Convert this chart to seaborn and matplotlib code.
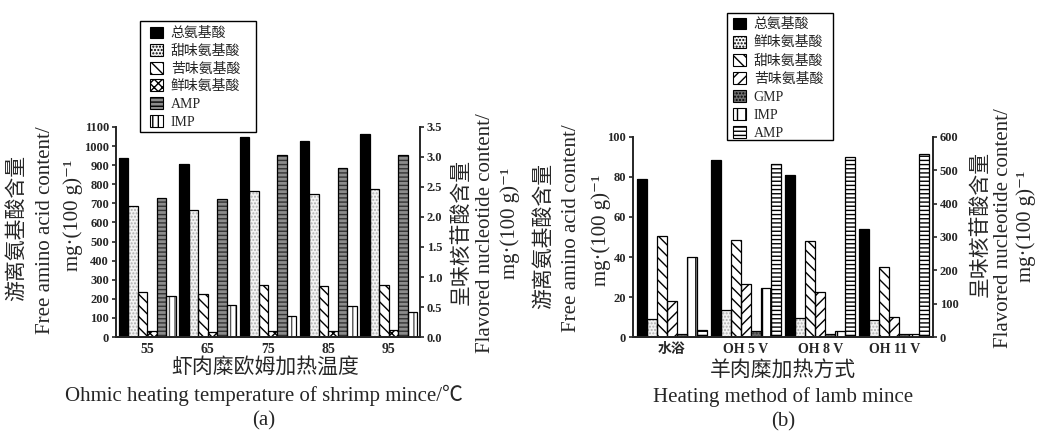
import numpy as np
import pandas as pd
import matplotlib
matplotlib.use('Agg')
import matplotlib.pyplot as plt
import matplotlib.patches as mpatches
import seaborn as sns

sns.set_style('ticks')
plt.rcParams['font.family'] = ['Liberation Serif', 'Noto Sans CJK SC', 'DejaVu Sans']
plt.rcParams['hatch.linewidth'] = 1.0
plt.rcParams['axes.linewidth'] = 1.4

# ---- panel (a): shrimp mince, ohmic heating temperature ----
temps = ['55', '65', '75', '85', '95']
a_total = [936, 904, 1049, 1027, 1063]
a_sweet = [688, 667, 763, 749, 775]
a_bitter = [237, 225, 271, 265, 274]
a_umami = [30, 28, 33, 31, 35]
a_amp = [2.31, 2.30, 3.03, 2.81, 3.03]
a_imp = [0.69, 0.54, 0.35, 0.52, 0.42]
a_names = ['总氨基酸', '甜味氨基酸', '苦味氨基酸', '鲜味氨基酸', 'AMP', 'IMP']

# ---- panel (b): lamb mince, heating method ----
methods = ['水浴', 'OH 5 V', 'OH 8 V', 'OH 11 V']
b_total = [79.0, 88.7, 80.8, 54.0]
b_umami = [9.2, 13.3, 9.3, 8.3]
b_sweet = [50.7, 48.3, 48.0, 35.0]
b_bitter = [18.0, 26.3, 22.5, 10.2]
b_gmp = [9, 19, 9, 9]
b_imp = [239, 146, 17, 10]
b_amp = [22, 518, 540, 548]
b_names = ['总氨基酸', '鲜味氨基酸', '甜味氨基酸', '苦味氨基酸', 'GMP', 'IMP', 'AMP']

# style per series: facecolor, hatch, hatch colour
a_style = {
    '总氨基酸': ('black', '', 'black'),
    '甜味氨基酸': ('#f4f4f4', '.....', '#b0b0b0'),
    '苦味氨基酸': ('white', '\\\\\\', 'black'),
    '鲜味氨基酸': ('white', 'xxxx', 'black'),
    'AMP': ('#8c8c8c', '----', '#333333'),
    'IMP': ('white', '|||', '#555555'),
}
b_style = {
    '总氨基酸': ('black', '', 'black'),
    '鲜味氨基酸': ('#f4f4f4', '.....', '#b0b0b0'),
    '甜味氨基酸': ('white', '\\\\\\', 'black'),
    '苦味氨基酸': ('white', '///', 'black'),
    'GMP': ('#6e6e6e', '.....', '#333333'),
    'IMP': ('white', '||', 'black'),
    'AMP': ('white', '----', 'black'),
}


def long_df(cats, names, series):
    rows = []
    for name, vals in zip(names, series):
        for c, v in zip(cats, vals):
            rows.append({'cat': c, 'series': name, 'value': v})
    return pd.DataFrame(rows)


def style_bars(ax, names, styles):
    conts = [c for c in ax.containers if len(c.patches) > 0]
    for cont, name in zip(conts, names):
        fc, hatch, hc = styles[name]
        for p in cont.patches:
            p.set_facecolor(fc)
            p.set_edgecolor(hc)
            p.set_hatch(hatch)
            p.set_linewidth(0)
            # black outline drawn on top
            ax.add_patch(mpatches.Rectangle(p.get_xy(), p.get_width(), p.get_height(),
                                            fill=False, edgecolor='black', lw=0.9))


def draw_panel(fig, rect, cats, names, left_series, right_series, styles):
    ax = fig.add_axes(rect)
    ax2 = ax.twinx()
    n_left = len(left_series)
    pal = {n: styles[n][0] for n in names}
    dl = long_df(cats, names[:n_left], left_series)
    dr = long_df(cats, names[n_left:], right_series)
    sns.barplot(data=dl, x='cat', y='value', hue='series', hue_order=names,
                order=cats, palette=pal, errorbar=None, width=0.94, gap=0,
                legend=False, ax=ax)
    sns.barplot(data=dr, x='cat', y='value', hue='series', hue_order=names,
                order=cats, palette=pal, errorbar=None, width=0.94, gap=0,
                legend=False, ax=ax2)
    style_bars(ax, names[:n_left], styles)
    style_bars(ax2, names[n_left:], styles)
    return ax, ax2


W, H = 1040, 432
fig = plt.figure(figsize=(W / 100, H / 100), dpi=100)

# panel (a)
axa, axa2 = draw_panel(fig, [116 / W, 1 - 337 / H, 304 / W, 210 / H],
                       temps, a_names,
                       [a_total, a_sweet, a_bitter, a_umami], [a_amp, a_imp], a_style)
axa.set_ylim(0, 1100)
axa.set_yticks(np.arange(0, 1101, 100))
axa2.set_ylim(0, 3.5)
axa2.set_yticks(np.arange(0, 3.51, 0.5))
axa2.set_yticklabels([f'{v:.1f}' for v in np.arange(0, 3.51, 0.5)])

# panel (b)
axb, axb2 = draw_panel(fig, [633 / W, 1 - 337 / H, 300 / W, 200 / H],
                       methods, b_names,
                       [b_total, b_umami, b_sweet, b_bitter], [b_gmp, b_imp, b_amp], b_style)
axb.set_ylim(0, 100)
axb.set_yticks(np.arange(0, 101, 20))
axb2.set_ylim(0, 600)
axb2.set_yticks(np.arange(0, 601, 100))

for ax, ax2, n in ((axa, axa2, 5), (axb, axb2, 4)):
    ax.set_xlim(-0.52, n - 0.48)
    for a in (ax, ax2):
        a.spines['top'].set_visible(False)
        a.set_xlabel('')
        a.set_ylabel('')
        a.tick_params(axis='y', length=3, width=1.2, labelsize=9, pad=2)
        for lab in a.get_yticklabels():
            lab.set_fontweight('bold')
    ax.spines['right'].set_visible(False)
    ax2.spines['left'].set_visible(False)
    ax.tick_params(axis='x', length=0, labelsize=10, pad=4)
    for lab in ax.get_xticklabels():
        lab.set_fontweight('bold')


def ftext(x, y, s, **kw):
    # place text by pixel position in the 1040x432 canvas
    fig.text(x / W, 1 - y / H, s, ha='center', va='center', fontsize=15, **kw)


# axis titles, one line each (Chinese / English / unit)
cn_left, en_left = '游离氨基酸含量', 'Free amino acid content/'
cn_right, en_right = '呈味核苷酸含量', 'Flavored nucleotide content/'
unit = 'mg·(100 g)⁻¹'
for (xc, yc), (xe, ye), (xm, ym), cn, en in (
        ((17, 228), (46, 230), (73, 215), cn_left, en_left),
        ((462, 232), (486, 233), (510, 223), cn_right, en_right),
        ((544, 236), (572, 228), (601, 230), cn_left, en_left),
        ((981, 224), (1004, 228), (1026, 226), cn_right, en_right)):
    ftext(xc, yc, cn, rotation=90)
    ftext(xe, ye, en, rotation=90)
    ftext(xm, ym, unit, rotation=90)

ftext(265, 368, '虾肉糜欧姆加热温度')
ftext(264, 395, 'Ohmic heating temperature of shrimp mince/℃')
ftext(264, 421, '(a)')
ftext(783, 372, '羊肉糜加热方式')
ftext(783, 397, 'Heating method of lamb mince')
ftext(783, 422, '(b)')


# legends: frame box drawn separately so its size matches the original
def legend_handles(names, styles):
    hs = []
    for n in names:
        fc, hatch, hc = styles[n]
        hs.append(mpatches.Patch(facecolor=fc, edgecolor='black', hatch=hatch, lw=0.8, label=n))
    return hs


for names, styles, box, anchor, lsp in (
        (a_names, a_style, (140, 21, 256, 132), (150, 26.5), 0.28),
        (b_names, b_style, (727, 13, 833, 140), (733, 17.5), 0.31)):
    x0, y0, x1, y1 = box
    fig.patches.append(mpatches.Rectangle((x0 / W, 1 - y1 / H), (x1 - x0) / W, (y1 - y0) / H,
                                          transform=fig.transFigure, facecolor='white',
                                          edgecolor='black', lw=1.0, zorder=5))
    leg = fig.legend(handles=legend_handles(names, styles), loc='upper left',
                     bbox_to_anchor=(anchor[0] / W, 1 - anchor[1] / H), borderaxespad=0,
                     frameon=False, fontsize=10,
                     handlelength=0.95, handleheight=0.95, labelspacing=lsp,
                     handletextpad=0.55, borderpad=0)
    leg.set_zorder(6)

fig.savefig('out.png', dpi=100)
